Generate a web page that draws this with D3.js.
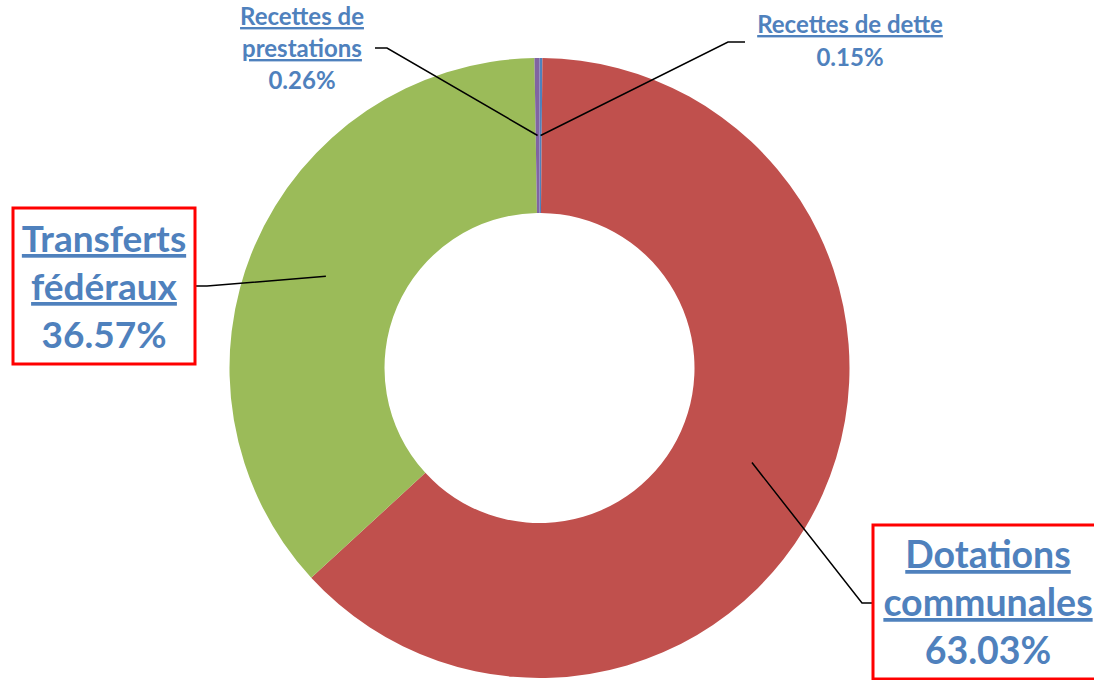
<!DOCTYPE html>
<html>
<head>
<meta charset="utf-8">
<script src="https://cdn.jsdelivr.net/npm/d3@7"></script>
<style>
  body { margin: 0; background: #fff; }
  text { font-family: Lato, "Open Sans", sans-serif; font-weight: bold; fill: #4F81BD; }
</style>
</head>
<body>
<div id="grafico"></div>
<script>
// Dados do grafico (ordem do Excel, a partir do topo, sentido horario)
const categorias = ["Recettes de dette", "Dotations communales", "Transferts fédéraux", "Recettes de prestations"];
const valores    = [0.15, 63.03, 36.57, 0.26];
const rotulos    = [["Recettes de dette"], ["Dotations", "communales"], ["Transferts", "fédéraux"], ["Recettes de", "prestations"]];
const percentuais = ["0.15%", "63.03%", "36.57%", "0.26%"];
const cores      = ["#4F81BD", "#C0504D", "#9BBB59", "#8064A2"];

const width  = 1094;
const height = 680;
const cx = 539.5, cy = 368;
const rOuter = 310, rInner = 155;

// Posicao dos rotulos (layout)
const layout = [
  { x: 850, y: 33, size: 24, lh: 33, box: null, line: [[745, 42], [728, 42]] },
  { x: 988, y: 568, size: 37.5, lh: 48, box: [873, 525, 230, 154], line: [[873, 603], [862, 603]] },
  { x: 104, y: 252, size: 37, lh: 48, box: [13, 208, 182, 156], line: [[195, 286], [207, 286]] },
  { x: 302, y: 25, size: 24, lh: 32, box: null, line: [[375, 48], [387, 48]] }
];

const svg = d3.select("#grafico")
              .append("svg")
              .attr("width", width)
              .attr("height", height);

const pie = d3.pie().sort(null).value(d => d);
const arcs = pie(valores);

const arc = d3.arc().innerRadius(rInner).outerRadius(rOuter);

const g = svg.append("g").attr("transform", `translate(${cx}, ${cy})`);

//Desenha as fatias
g.selectAll("path")
 .data(arcs)
 .enter()
 .append("path")
 .attr("d", arc)
 .attr("fill", (d, i) => cores[i]);

//Desenha as linhas de chamada
arcs.forEach((a, i) => {
  const c = arc.centroid(a);
  const pts = [layout[i].line[0], layout[i].line[1], [c[0] + cx, c[1] + cy]];
  svg.append("path")
     .attr("d", d3.line()(pts))
     .attr("fill", "none")
     .attr("stroke", "#000")
     .attr("stroke-width", 1.5);
});

//Desenha os rotulos
layout.forEach((l, i) => {
  if (l.box) {
    svg.append("rect")
       .attr("x", l.box[0]).attr("y", l.box[1])
       .attr("width", l.box[2]).attr("height", l.box[3])
       .attr("fill", "#fff")
       .attr("stroke", "#FF0000")
       .attr("stroke-width", 3);
  }
  const linhas = rotulos[i];
  linhas.forEach((t, k) => {
    svg.append("text")
       .attr("x", l.x)
       .attr("y", l.y + k * l.lh)
       .attr("font-size", l.size + "px")
       .attr("text-anchor", "middle")
       .style("text-decoration", "underline")
       .text(t);
  });
  svg.append("text")
     .attr("x", l.x)
     .attr("y", l.y + linhas.length * l.lh)
     .attr("font-size", l.size + "px")
     .attr("text-anchor", "middle")
     .text(percentuais[i]);
});
</script>
</body>
</html>
